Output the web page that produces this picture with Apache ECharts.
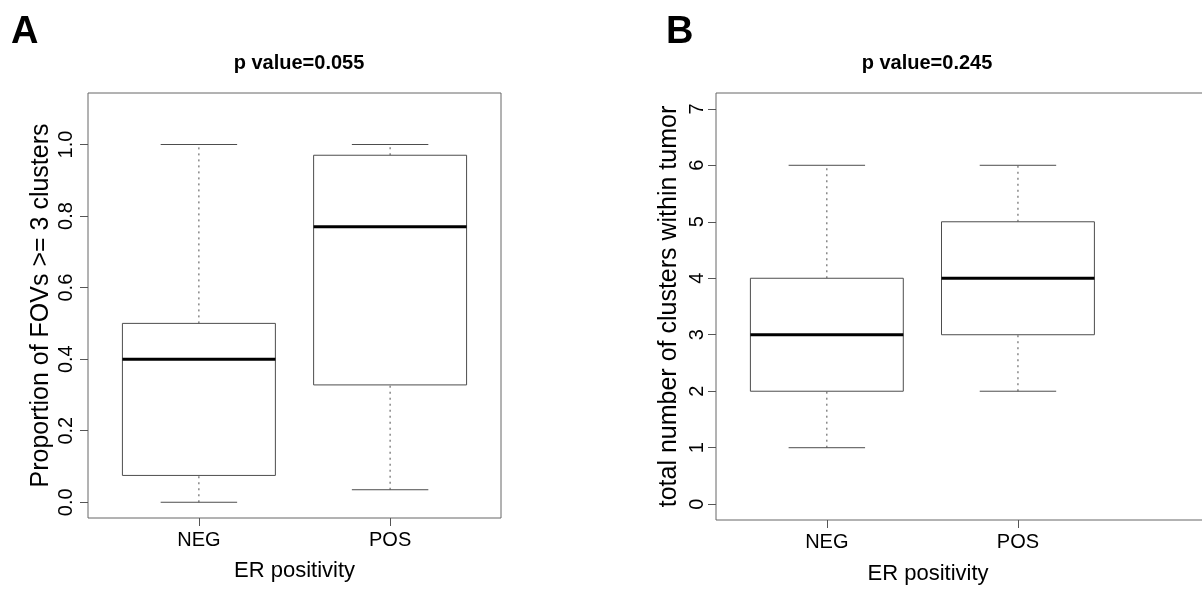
<!DOCTYPE html>
<html>
<head>
    <meta charset="utf-8">
    <title>ER positivity boxplots</title>
    <script src="https://cdn.jsdelivr.net/npm/echarts@6/dist/echarts.min.js"></script>
</head>
<body style="margin:0;background:#fff;">
<div id="main" style="width: 1202px; height: 591px;"></div>
<script>
    // categories sit at x = 1 and 2, like R's boxplot
    var categories = ['NEG', 'POS'];
    var positions = [1, 2];

    // [min, Q1, median, Q3, max]
    var fovNeg = [0.0, 0.075, 0.40, 0.50, 1.0];
    var fovPos = [0.035, 0.328, 0.77, 0.97, 1.0];
    var clusterNeg = [1, 2, 3, 4, 6];
    var clusterPos = [2, 3, 4, 5, 6];

    var fovTicks = [0, 0.2, 0.4, 0.6, 0.8, 1.0];
    var clusterTicks = [0, 1, 2, 3, 4, 5, 6, 7];

    var font = "'Liberation Sans', Arial, Helvetica, sans-serif";
    var boxHalf = 0.4, capHalf = 0.2;

    function withPos(stats, i) {
        return [positions[i]].concat(stats);
    }

    function renderBox(params, api) {
        var x = api.value(0);
        var lo = api.value(1), q1 = api.value(2), med = api.value(3), q3 = api.value(4), hi = api.value(5);
        function pt(dx, v) { return api.coord([x + dx, v]); }
        function seg(a, b, style) {
            return { type: 'line', shape: { x1: a[0], y1: a[1], x2: b[0], y2: b[1] }, style: style };
        }
        var thin = { stroke: '#4d4d4d', lineWidth: 1 };
        var dash = { stroke: '#4d4d4d', lineWidth: 1, lineDash: [2, 4] };
        var tl = pt(-boxHalf, q3), br = pt(boxHalf, q1);
        return {
            type: 'group',
            children: [
                seg(pt(0, q3), pt(0, hi), dash),
                seg(pt(0, lo), pt(0, q1), dash),
                seg(pt(-capHalf, hi), pt(capHalf, hi), thin),
                seg(pt(-capHalf, lo), pt(capHalf, lo), thin),
                { type: 'rect', shape: { x: tl[0], y: tl[1], width: br[0] - tl[0], height: br[1] - tl[1] },
                  style: { fill: '#fff', stroke: '#4d4d4d', lineWidth: 1 } },
                seg(pt(-boxHalf, med), pt(boxHalf, med), { stroke: '#000', lineWidth: 3 })
            ]
        };
    }

    function xAxisFor(idx, max) {
        return {
            type: 'value', gridIndex: idx, min: 0.42, max: max,
            splitLine: { show: false },
            axisLine: { show: false, onZero: false },
            axisTick: { show: true, length: 8, customValues: positions, lineStyle: { color: '#555' } },
            axisLabel: {
                customValues: positions, margin: 12, fontSize: 20, color: '#000', fontFamily: font,
                formatter: function (v) { return categories[Math.round(v) - 1]; }
            }
        };
    }

    function yAxisFor(idx, min, max, ticks, digits, name, margin) {
        return {
            type: 'value', gridIndex: idx, min: min, max: max,
            splitLine: { show: false },
            axisLine: { show: false, onZero: false },
            axisTick: { show: true, length: 8, customValues: ticks, lineStyle: { color: '#555' } },
            axisLabel: {
                customValues: ticks, rotate: 90, margin: margin, fontSize: 20, color: '#000', fontFamily: font,
                formatter: function (v) { return v.toFixed(digits); }
            },
            name: name, nameLocation: 'middle', nameGap: 34,
            nameTextStyle: { fontSize: 25, color: '#000', fontFamily: font }
        };
    }

    var myChart = echarts.init(document.getElementById('main'));

    var option = {
        animation: false,
        backgroundColor: '#fff',
        title: [
            { text: 'A', left: 6, top: 9, textStyle: { fontSize: 38, fontWeight: 'bold', color: '#000', fontFamily: font } },
            { text: 'B', left: 661, top: 9, textStyle: { fontSize: 38, fontWeight: 'bold', color: '#000', fontFamily: font } },
            { text: 'p value=0.055', left: 294, top: 48, textAlign: 'center',
              textStyle: { fontSize: 20, fontWeight: 'bold', color: '#000', fontFamily: font } },
            { text: 'p value=0.245', left: 922, top: 48, textAlign: 'center',
              textStyle: { fontSize: 20, fontWeight: 'bold', color: '#000', fontFamily: font } },
            { text: 'ER positivity', left: 923, top: 558, textAlign: 'center',
              textStyle: { fontSize: 22, fontWeight: 'normal', color: '#000', fontFamily: font } }
        ],
        grid: [
            { left: 88, top: 93, width: 413, height: 425, outerBoundsMode: 'none',
              show: true, borderColor: '#666', borderWidth: 1, backgroundColor: 'transparent' },
            { left: 716, top: 93, width: 516, height: 427, outerBoundsMode: 'none',
              show: true, borderColor: '#666', borderWidth: 1, backgroundColor: 'transparent' }
        ],
        xAxis: [
            Object.assign(xAxisFor(0, 2.58), {
                name: 'ER positivity', nameLocation: 'middle', nameGap: 42,
                nameTextStyle: { fontSize: 22, color: '#000', fontFamily: font }
            }),
            xAxisFor(1, 3.12)
        ],
        yAxis: [
            yAxisFor(0, -0.044, 1.144, fovTicks, 1, 'Proportion of FOVs >= 3 clusters', 12),
            yAxisFor(1, -0.28, 7.28, clusterTicks, 0, 'total number of clusters within tumor', 9)
        ],
        series: [
            {
                type: 'custom', xAxisIndex: 0, yAxisIndex: 0,
                renderItem: renderBox,
                encode: { x: 0, y: [1, 2, 3, 4, 5] },
                data: [withPos(fovNeg, 0), withPos(fovPos, 1)]
            },
            {
                type: 'custom', xAxisIndex: 1, yAxisIndex: 1,
                renderItem: renderBox,
                encode: { x: 0, y: [1, 2, 3, 4, 5] },
                data: [withPos(clusterNeg, 0), withPos(clusterPos, 1)]
            }
        ]
    };

    myChart.setOption(option);
</script>
</body>
</html>
